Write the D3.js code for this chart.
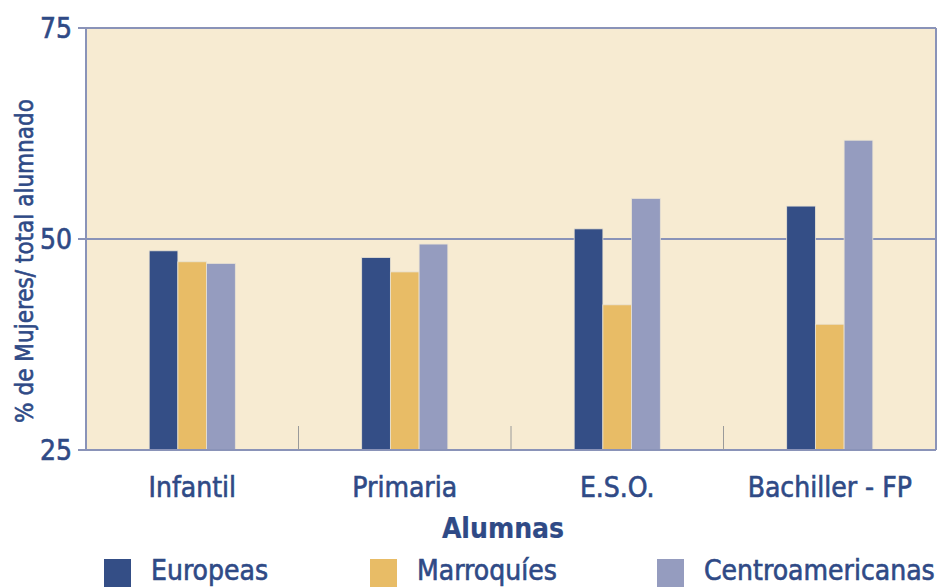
<!DOCTYPE html>
<html>
<head>
<meta charset="utf-8">
<script src="https://cdn.jsdelivr.net/npm/d3@7"></script>
<style>
  body { margin: 0; background: #fff; }
  svg text { font-family: "DejaVu Sans Condensed", "DejaVu Sans", sans-serif; fill: #2f4a86; stroke: #2f4a86; stroke-width: 0.6px; }
</style>
</head>
<body>
<svg id="chart" width="944" height="587"></svg>
<script>
const categories = ['Infantil', 'Primaria', 'E.S.O.', 'Bachiller - FP'];
const series = ['Europeas', 'Marroquíes', 'Centroamericanas'];
const europeas = [48.6, 47.8, 51.2, 53.9];
const marroquies = [47.3, 46.1, 42.2, 39.9];
const centroamericanas = [47.1, 49.4, 54.8, 61.7];
const yTicks = [25, 50, 75];
const colors = ['#344e86', '#e8bc66', '#959cbf'];

const values = [europeas, marroquies, centroamericanas];

const svg = d3.select('#chart');
const mLeft = 86, mRight = 936, mTop = 28, mBottom = 450;

const x = d3.scaleBand().domain(categories).range([mLeft, mRight]).paddingInner(0).paddingOuter(0);
const xs = d3.scaleBand().domain(series).range([0, x.bandwidth()]).paddingInner(0).paddingOuter(2.2);
const y = d3.scaleLinear().domain([25, 75]).range([mBottom, mTop]);

// panel
svg.append('rect')
  .attr('x', mLeft).attr('y', mTop)
  .attr('width', mRight - mLeft).attr('height', mBottom - mTop)
  .attr('fill', '#f7ebd2');

// gridlines
svg.selectAll('line.grid')
  .data(yTicks.slice(1))
  .enter().append('line')
  .attr('class', 'grid')
  .attr('x1', mLeft - 8).attr('x2', mRight)
  .attr('y1', d => y(d)).attr('y2', d => y(d))
  .attr('stroke', '#8a93b8').attr('stroke-width', 2);

// bars
const groups = svg.selectAll('g.cat')
  .data(categories)
  .enter().append('g')
  .attr('class', 'cat')
  .attr('transform', d => `translate(${x(d)},0)`);

groups.selectAll('rect')
  .data((c, i) => series.map((s, j) => ({ s, v: values[j][i], j })))
  .enter().append('rect')
  .attr('x', d => xs(d.s))
  .attr('y', d => y(d.v))
  .attr('width', xs.bandwidth())
  .attr('height', d => mBottom - y(d.v))
  .attr('fill', d => colors[d.j])
  .attr('stroke', '#e9e2d3').attr('stroke-width', 0.8);

// frame
svg.append('line').attr('x1', mLeft).attr('x2', mLeft).attr('y1', mTop).attr('y2', mBottom)
  .attr('stroke', '#8a93b8').attr('stroke-width', 2);
svg.append('line').attr('x1', mRight).attr('x2', mRight).attr('y1', mTop).attr('y2', mBottom)
  .attr('stroke', '#8a93b8').attr('stroke-width', 2);
svg.append('line').attr('x1', mLeft - 8).attr('x2', mRight).attr('y1', mBottom).attr('y2', mBottom)
  .attr('stroke', '#8a93b8').attr('stroke-width', 2);

// category separators
svg.selectAll('line.sep')
  .data(categories.slice(1))
  .enter().append('line')
  .attr('class', 'sep')
  .attr('x1', d => x(d)).attr('x2', d => x(d))
  .attr('y1', mBottom - 24).attr('y2', mBottom)
  .attr('stroke', '#9a9a9a').attr('stroke-width', 1);

// y tick labels
svg.selectAll('text.ytick')
  .data(yTicks)
  .enter().append('text')
  .attr('class', 'ytick')
  .attr('x', mLeft - 14).attr('y', d => y(d) + 10)
  .attr('text-anchor', 'end')
  .attr('font-size', 28)
  .text(d => d);

// x labels
svg.selectAll('text.xlab')
  .data(categories)
  .enter().append('text')
  .attr('class', 'xlab')
  .attr('x', d => x(d) + x.bandwidth() / 2).attr('y', 497)
  .attr('text-anchor', 'middle')
  .attr('font-size', 28)
  .text(d => d);

// axis titles
svg.append('text')
  .attr('x', 503).attr('y', 538)
  .attr('text-anchor', 'middle')
  .attr('font-size', 28).attr('font-weight', 'bold')
  .style('stroke-width', '0.2px')
  .text('Alumnas');

svg.append('text')
  .attr('transform', `translate(33,${(mTop + mBottom) / 2 + 22}) rotate(-90)`)
  .attr('text-anchor', 'middle')
  .attr('font-size', 24)
  .text('% de Mujeres/ total alumnado');

// legend
const legendX = [104, 370, 657];
const legend = svg.selectAll('g.leg')
  .data(series)
  .enter().append('g')
  .attr('class', 'leg')
  .attr('transform', (d, i) => `translate(${legendX[i]},559)`);
legend.append('rect')
  .attr('width', 27).attr('height', 28)
  .attr('fill', (d, i) => colors[i]);
legend.append('text')
  .attr('x', 47).attr('y', 21)
  .attr('font-size', 28)
  .text(d => d);
</script>
</body>
</html>
